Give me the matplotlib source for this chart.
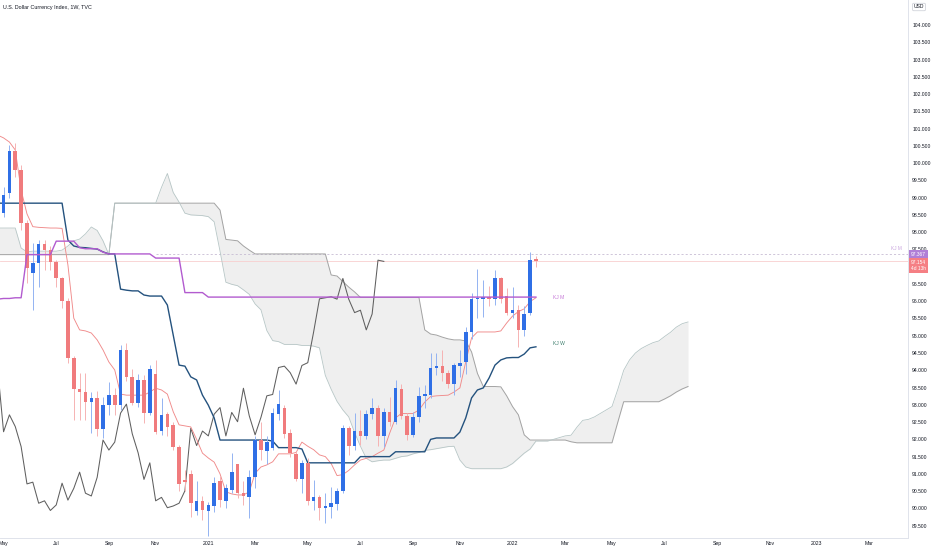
import matplotlib as mpl

mpl.use('Agg')
import matplotlib.pyplot as plt
import numpy as np

plt.rcParams['font.family'] = ['Liberation Sans Narrow', 'Liberation Sans', 'DejaVu Sans']

# weekly bars, bar 0 = week of 4 Jan 2021
first_bar = -36
opens = [100.25, 98.56, 99.13, 100.36, 99.80, 98.27, 96.83, 97.10, 97.66, 97.48,
         97.15, 96.66, 96.02, 94.35, 93.45, 93.38, 93.09, 93.19, 92.29, 92.99,
         93.29, 93.00, 94.59, 93.81, 93.06, 93.72, 92.77, 93.88, 92.24, 92.73,
         92.42, 91.79, 90.82, 91.00, 89.93, 90.22, 89.93, 90.07, 90.80, 90.22,
         90.53, 91.28, 90.44, 90.34, 90.92, 91.98, 91.66, 91.74, 92.73, 92.90,
         92.19, 91.57, 90.84, 91.31, 90.22, 90.32, 90.02, 90.05, 90.13, 90.51,
         92.32, 91.82, 92.24, 92.10, 92.73, 92.92, 92.10, 92.78, 92.51, 93.47,
         92.68, 92.13, 92.64, 93.26, 93.28, 94.08, 94.12, 93.93, 93.60, 94.12,
         94.24, 95.11, 96.06, 96.07, 96.13, 96.06, 96.66, 96.15, 95.67, 95.75,
         95.17, 95.65, 97.22]
highs = [100.45, 99.30, 100.52, 100.59, 99.95, 98.35, 97.68, 97.78, 97.77, 97.60,
         97.19, 96.71, 96.10, 94.40, 93.92, 93.92, 93.38, 93.40, 93.24, 93.67,
         93.50, 94.74, 94.80, 94.05, 93.90, 93.85, 94.15, 94.30, 93.20, 92.80,
         92.50, 91.85, 91.10, 91.10, 90.80, 90.35, 90.20, 90.90, 90.95, 90.70,
         91.60, 91.30, 90.80, 91.10, 92.10, 92.50, 92.10, 92.90, 93.43, 93.00,
         92.30, 91.65, 91.40, 91.45, 90.82, 90.40, 90.44, 90.63, 90.60, 92.42,
         92.40, 92.75, 92.85, 92.85, 93.20, 93.00, 92.90, 93.22, 93.72, 93.60,
         92.75, 92.80, 93.53, 93.57, 94.50, 94.49, 94.59, 94.00, 94.20, 94.59,
         95.26, 96.23, 96.93, 96.62, 96.45, 96.90, 96.70, 96.38, 96.40, 95.90,
         95.85, 97.44, 97.30]
lows = [98.50, 98.45, 99.00, 99.60, 98.06, 96.52, 95.75, 96.42, 96.90, 96.90,
        96.42, 95.80, 94.20, 92.56, 92.56, 92.56, 92.18, 92.10, 92.03, 92.70,
        92.70, 92.85, 93.70, 93.00, 92.95, 92.47, 92.70, 92.15, 92.13, 92.10,
        91.70, 90.50, 90.50, 89.75, 89.80, 89.65, 89.20, 89.90, 90.05, 90.00,
        90.45, 90.30, 90.10, 89.72, 90.60, 91.40, 91.30, 91.70, 92.56, 92.03,
        91.50, 90.80, 90.44, 90.10, 89.95, 89.66, 89.57, 89.71, 89.95, 90.44,
        91.55, 91.70, 91.85, 92.00, 92.60, 91.81, 91.78, 92.40, 92.45, 92.60,
        91.98, 92.08, 92.50, 92.90, 93.20, 93.85, 93.70, 93.50, 93.28, 93.81,
        93.90, 94.90, 95.51, 95.55, 95.85, 95.90, 95.95, 95.60, 95.50, 94.68,
        95.00, 95.60, 97.00]
closes = [98.62, 99.08, 100.36, 99.80, 98.27, 96.95, 97.10, 97.66, 97.48, 97.15,
          96.66, 96.02, 94.35, 93.45, 93.38, 93.09, 93.20, 92.29, 92.99, 93.28,
          93.00, 94.59, 93.81, 93.06, 93.72, 92.75, 94.03, 92.22, 92.71, 92.37,
          91.79, 90.71, 90.76, 90.15, 90.22, 89.94, 90.10, 90.73, 90.24, 90.58,
          91.05, 90.44, 90.36, 90.90, 91.98, 91.69, 91.92, 92.76, 93.02, 92.16,
          91.61, 90.84, 91.32, 90.22, 90.32, 90.02, 90.07, 90.15, 90.51, 92.32,
          91.82, 92.24, 92.10, 92.73, 92.92, 92.10, 92.78, 92.51, 93.48, 92.68,
          92.13, 92.64, 93.26, 93.30, 94.08, 94.12, 93.93, 93.60, 94.14, 94.22,
          95.11, 96.07, 96.10, 96.13, 96.06, 96.66, 96.06, 95.67, 95.74, 95.17,
          95.63, 97.19, 97.154]

tenkan = [100.81, 100.73, 100.61, 100.38, 99.22, 98.53, 98.16, 98.14, 98.13, 98.12,
          98.12, 98.11, 97.05, 95.51, 95.17, 95.14, 95.08, 94.88, 94.59, 94.24,
          94.01, 93.31, 93.28, 93.28, 93.28, 93.28, 93.37, 93.48, 93.43, 93.31,
          92.80, 92.42, 92.39, 92.36, 92.00, 91.60, 91.46, 91.34, 91.00, 90.48,
          90.42, 90.39, 90.39, 90.48, 91.02, 91.20, 91.26, 91.35, 91.58, 91.58,
          91.58, 91.62, 91.92, 91.80, 91.70, 91.55, 91.50, 91.30, 90.95, 90.98,
          91.10, 91.26, 91.40, 91.45, 91.50, 91.60, 91.69, 92.18, 92.62, 92.75,
          92.75, 92.75, 92.85, 93.08, 93.24, 93.26, 93.27, 93.28, 93.37, 93.49,
          94.24, 94.94, 95.11, 95.11, 95.11, 95.11, 95.14, 95.37, 95.57, 95.70,
          95.78, 95.99, 96.10]
kijun = [98.84, 98.84, 98.84, 98.84, 98.84, 98.84, 98.84, 98.84, 98.84, 98.84,
         98.84, 98.84, 97.77, 97.60, 97.56, 97.55, 97.53, 97.51, 97.43, 97.37,
         97.37, 96.35, 96.32, 96.30, 96.30, 96.18, 96.15, 96.15, 96.15, 95.89,
         95.02, 94.15, 94.12, 93.81, 93.72, 93.28, 92.99, 92.62, 91.98, 91.98,
         91.98, 91.98, 91.98, 91.98, 91.98, 91.98, 91.98, 91.95, 91.76, 91.76,
         91.76, 91.76, 91.72, 91.32, 91.32, 91.32, 91.32, 91.32, 91.32, 91.32,
         91.32, 91.32, 91.50, 91.50, 91.50, 91.50, 91.50, 91.50, 91.64, 91.64,
         91.64, 91.64, 91.64, 91.64, 92.00, 92.04, 92.04, 92.04, 92.04, 92.21,
         92.62, 93.20, 93.43, 93.49, 93.78, 94.15, 94.30, 94.36, 94.37, 94.37,
         94.47, 94.65, 94.68]
kijun_month = [96.06, 96.08, 96.08, 96.10, 96.10, 97.35, 97.35, 97.35, 97.35, 97.35,
               97.74, 97.74, 97.74, 97.74, 97.55, 97.52, 97.52, 97.52, 97.42,
               97.37, 97.37, 97.37, 97.37, 97.37, 97.37, 97.37, 97.37,
               97.25, 97.25, 97.25, 97.25, 97.25,
               96.25, 96.25, 96.25, 96.25] + [96.12] * 57

# cloud, drawn 26 bars ahead (bars -36 .. 82)
senkou_a = [98.12, 98.12, 98.12, 98.12, 97.54, 97.43, 97.45, 97.45, 97.45, 97.45,
            97.45, 97.48, 97.60, 97.75, 97.80, 97.95, 98.15, 98.05, 97.75, 97.35,
            98.84, 98.84, 98.84, 98.84, 98.84, 98.84, 98.84, 98.84, 99.30, 99.70,
            99.15, 98.87, 98.55, 98.50, 98.49, 98.48, 98.45, 98.30, 97.45, 96.55,
            96.49, 96.45, 96.33, 96.20, 95.92, 95.75, 95.15, 94.86, 94.83, 94.75,
            94.75, 94.75, 94.72, 94.72, 94.70, 94.65, 93.85, 93.45, 93.10, 92.85,
            92.65, 92.20, 91.80, 91.45, 91.35, 91.38, 91.40, 91.40, 91.45, 91.50,
            91.52, 91.58, 91.62, 91.68, 91.70, 91.73, 91.76, 91.79, 91.80, 91.40,
            91.20, 91.15, 91.15, 91.15, 91.15, 91.15, 91.15, 91.20, 91.30, 91.45,
            91.60, 91.72, 91.95, 91.95, 91.95, 92.00, 92.05, 92.10, 92.12, 92.35,
            92.55, 92.58, 92.65, 92.75, 92.85, 92.95, 93.45, 94.00, 94.30, 94.50,
            94.63, 94.72, 94.80, 94.85, 94.98, 95.10, 95.25, 95.35, 95.40]
senkou_b = ([97.35] * 20 + [98.84] * 18 +
            [98.64, 97.79, 97.77, 97.75, 97.60, 97.48] + [97.37] * 13 +
            [96.76, 96.73, 96.57, 96.41, 96.27] + [96.11] * 11 +
            [95.17, 95.05, 95.02, 94.96, 94.91, 94.88, 94.88, 94.85, 94.53, 93.91,
             93.53, 93.53, 93.53, 93.52, 93.26, 92.95, 92.71, 92.13, 91.98] +
            [91.98] * 6 + [91.93] + [91.90] * 7 +
            [92.50] + [93.09] * 7 + [93.17, 93.26, 93.37, 93.46, 93.53])

last_price = 97.154
kj_m_level = 97.367

tick_bars = [-35, -26, -17, -9, 0, 8, 17, 26, 35, 43, 52, 61, 69, 78, 87, 96, 104, 113]
tick_names = ['May', 'Jul', 'Sep', 'Nov', '2021', 'Mar', 'May', 'Jul', 'Sep', 'Nov',
              '2022', 'Mar', 'May', 'Jul', 'Sep', 'Nov', '2023', 'Mar']

bars = np.arange(first_bar, first_bar + len(opens))
cloud_bars = np.arange(first_bar, first_bar + len(senkou_a))
o = np.array(opens)
h = np.array(highs)
l = np.array(lows)
c = np.array(closes)

fig = plt.figure(figsize=(9.32, 5.5), dpi=100)
ax = fig.add_axes([0, 12 / 550, 908 / 932, 538 / 550])
ax.set_xlim(-35.61, 119.6)
ax.set_ylim(89.143, 104.724)

# cloud
sa = np.array(senkou_a)
sb = np.array(senkou_b)
ax.fill_between(cloud_bars, sa, sb, color='#efefef', lw=0, zorder=1)
ax.plot(cloud_bars, sb, color='#a3a3a3', lw=0.7, zorder=2)
ax.plot(cloud_bars, sa, color='#b7c6c6', lw=0.6, zorder=2)

# price reference lines
ax.axhline(last_price, color='#f8cfcf', lw=0.6, zorder=1.5)
ax.plot([-9, 119.6], [kj_m_level, kj_m_level], color='#c7bcd3', lw=0.6,
        ls=(0, (2.5, 2.5)), zorder=1.5)

# chikou, tenkan, kijun
ax.plot(bars - 26, c, color='#5f5f5f', lw=0.75, zorder=2.5)
ax.plot(bars, tenkan, color='#f08a8a', lw=0.65, zorder=2.6)
ax.plot(bars, kijun, color='#24527e', lw=1.0, zorder=2.6)
ax.plot(bars, kijun_month, color='#b25bcf', lw=1.0, zorder=3.5)

# candles
up = c >= o
body_lo = np.minimum(o, c)
body_h = np.maximum(np.abs(c - o), 0.035)
ax.vlines(bars[up], l[up], h[up], color='#93b3f2', lw=0.7, zorder=3)
ax.vlines(bars[~up], l[~up], h[~up], color='#f6b3b3', lw=0.7, zorder=3)
ax.bar(bars[up], body_h[up], bottom=body_lo[up], width=0.62, color='#2f6fe6', lw=0, zorder=3.2)
ax.bar(bars[~up], body_h[~up], bottom=body_lo[~up], width=0.62, color='#f07b7d', lw=0, zorder=3.2)

ax.text(59, 96.12, 'KJ M', color='#c77bd8', fontsize=3.6, va='center', ha='left')
ax.text(59, 94.78, 'KJ W', color='#3f7f6e', fontsize=3.6, va='center', ha='left')
ax.text(118.5, 97.52, 'KJ M', color='#c9a6df', fontsize=3.4, va='center', ha='right')

ax.text(3 / 908, 1 - 7 / 538, 'U.S. Dollar Currency Index, 1W, TVC', transform=ax.transAxes,
        fontsize=3.9, color='#131722', va='center', ha='left')

# axes styling
for side in ['top', 'left']:
    ax.spines[side].set_visible(False)
ax.spines['right'].set_color('#e0e3eb')
ax.spines['bottom'].set_color('#e0e3eb')
ax.spines['right'].set_linewidth(0.7)
ax.spines['bottom'].set_linewidth(0.7)

ax.set_xticks(tick_bars)
ax.set_xticklabels(tick_names)
ax.tick_params(axis='x', length=0, pad=2.2, labelsize=3.7, colors='#131722')

yt = [v for v in np.arange(89.5, 104.01, 0.5) if abs(v - 97.0) > 0.01]
ax.yaxis.tick_right()
ax.set_yticks(yt)
ax.set_yticklabels(['%.3f' % v for v in yt])
ax.tick_params(axis='y', length=0, pad=3, labelsize=3.6, colors='#131722')

# axis price tags
ax.text(1.0035, kj_m_level, '97.367', transform=ax.get_yaxis_transform(), fontsize=3.5,
        color='white', va='center', ha='left', zorder=6, clip_on=False,
        bbox=dict(boxstyle='square,pad=0.35', fc='#b07fd6', ec='none'))
ax.text(1.0035, last_price - 0.12, '97.154\n4d 13h', transform=ax.get_yaxis_transform(),
        fontsize=3.5, color='white', va='center', ha='left', zorder=6, clip_on=False,
        linespacing=1.3, bbox=dict(boxstyle='square,pad=0.35', fc='#f57f84', ec='none'))

fig.text(919 / 932, 1 - 7 / 550, 'USD', fontsize=3.6, color='#131722', ha='center', va='center',
         bbox=dict(boxstyle='round,pad=0.25', fc='white', ec='#c9ccd4', lw=0.5))

fig.savefig('out.png', dpi=100)
